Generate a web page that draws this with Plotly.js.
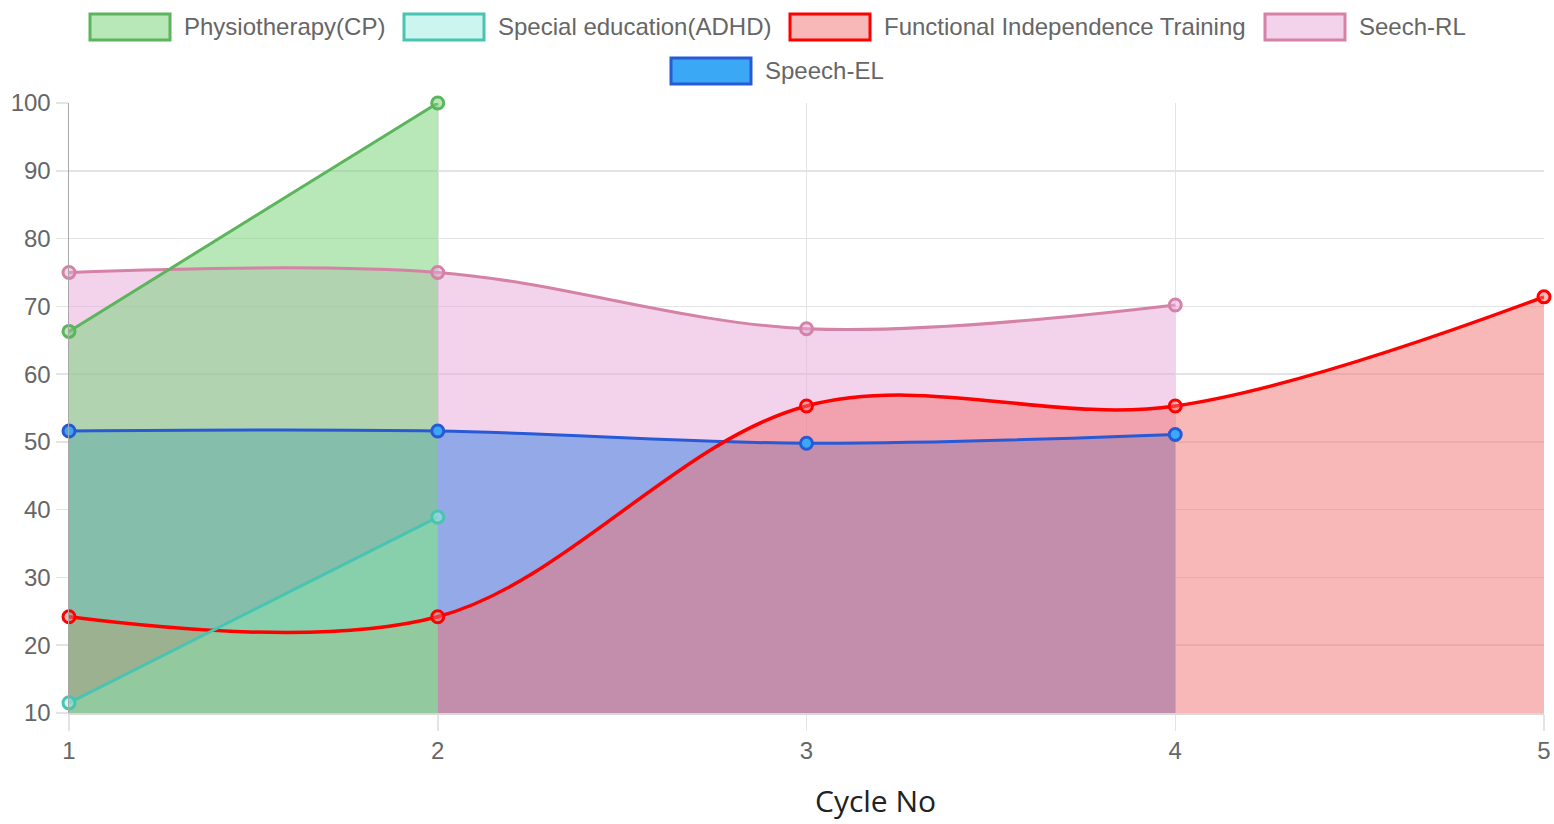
<!DOCTYPE html>
<html>
<head>
<meta charset="utf-8">
<script src="https://cdn.plot.ly/plotly-3.0.1.min.js"></script>
<style>
html,body{margin:0;padding:0;background:#fff;}
#chart{width:1554px;height:824px;}
</style>
</head>
<body>
<div id="chart"></div>
<script>
// ---- data ----
var cycles = [1, 2, 3, 4, 5];
var seriesNames = ['Physiotherapy(CP)', 'Special education(ADHD)', 'Functional Independence Training', 'Seech-RL', 'Speech-EL'];
var physio   = [66.3, 100];
var special  = [11.5, 38.9];
var fit      = [24.2, 24.2, 55.3, 55.3, 71.4];
var seechRL  = [75, 75, 66.7, 70.2];
var speechEL = [51.6, 51.6, 49.8, 51.1];
var yTicks = [10, 20, 30, 40, 50, 60, 70, 80, 90, 100];

// ---- styles ----
var styles = [
  {fill: 'rgba(118,211,118,0.52)', line: 'rgb(92,180,92)',   width: 3},
  {fill: 'rgba(157,236,226,0.52)', line: 'rgb(72,196,176)',  width: 3},
  {fill: 'rgba(241,113,113,0.50)', line: 'rgb(255,0,0)',     width: 3.5},
  {fill: 'rgba(232,170,218,0.52)', line: 'rgb(212,130,165)', width: 3},
  {fill: 'rgb(58,168,245)',        line: 'rgb(40,90,214)',   width: 3}
];
var values = [physio, special, fit, seechRL, speechEL];

// plot area in page pixels (for legend placement)
var M = {l: 69, r: 10, t: 103, b: 111};
var W = 1554, H = 824;
var PW = W - M.l - M.r, PH = H - M.t - M.b;
function px(x) { return (x - M.l) / PW; }
function py(y) { return (H - M.b - y) / PH; }

// legend box positions (left edge px, row centre px)
var legendPos = [
  {x: 90, y: 27}, {x: 404, y: 27}, {x: 790, y: 27}, {x: 1265, y: 27}, {x: 671, y: 71}
];
var boxW = 80, boxH = 26, textGap = 12;

var fillTraces = [];
var lineTraces = [];
for (var i = values.length - 1; i >= 0; i--) {
  var xs = cycles.slice(0, values[i].length);
  fillTraces.push({
    type: 'scatter', mode: 'lines', name: seriesNames[i],
    x: xs, y: values[i], fill: 'tozeroy', fillcolor: styles[i].fill,
    line: {color: styles[i].line, width: 0, shape: 'spline', smoothing: 1},
    showlegend: false, hoverinfo: 'skip'
  });
  lineTraces.push({
    type: 'scatter', mode: 'lines+markers', name: seriesNames[i],
    x: xs, y: values[i], showlegend: false, cliponaxis: false,
    line: {color: styles[i].line, width: styles[i].width, shape: 'spline', smoothing: 1},
    marker: {size: 12, color: styles[i].fill, line: {color: styles[i].line, width: 3}}
  });
}

var shapes = [];
var annotations = [];
for (var k = 0; k < seriesNames.length; k++) {
  var p = legendPos[k];
  shapes.push({
    type: 'rect', xref: 'paper', yref: 'paper',
    x0: px(p.x), x1: px(p.x + boxW), y0: py(p.y + boxH / 2), y1: py(p.y - boxH / 2),
    fillcolor: styles[k].fill, line: {color: styles[k].line, width: 3}
  });
  annotations.push({
    text: seriesNames[k], xref: 'paper', yref: 'paper',
    x: px(p.x + boxW + textGap), y: py(p.y - 1), xanchor: 'left', yanchor: 'middle',
    showarrow: false, font: {family: 'Liberation Sans, Arial, sans-serif', size: 24, color: '#666'}
  });
}
annotations.push({
  text: 'Cycle No', xref: 'paper', yref: 'paper', x: px(875), y: py(800),
  xanchor: 'center', yanchor: 'middle', showarrow: false,
  font: {family: 'Open Sans, sans-serif', size: 30, color: '#222'}
});

var layout = {
  width: W, height: H,
  margin: {l: M.l, r: M.r, t: M.t, b: M.b, autoexpand: false},
  paper_bgcolor: '#fff', plot_bgcolor: '#fff',
  font: {family: 'Liberation Sans, Arial, sans-serif', size: 24, color: '#666'},
  xaxis: {
    range: [1, 5], tickvals: cycles, ticktext: cycles.map(String),
    showgrid: true, gridcolor: '#e4e4e4', gridwidth: 1.5, zeroline: false,
    ticks: 'outside', ticklen: 16, tickcolor: '#e4e4e4', tickwidth: 1.5,
    showline: true, linecolor: '#d8d8d8', linewidth: 1.5,
    tickfont: {size: 24, color: '#666'}
  },
  yaxis: {
    range: [10, 100], tickvals: yTicks,
    showgrid: true, gridcolor: '#e4e4e4', gridwidth: 1.5, zeroline: false,
    ticks: 'outside', ticklen: 12, tickcolor: '#e4e4e4', tickwidth: 1.5,
    showline: true, linecolor: '#a8a8a8', linewidth: 1.5,
    tickfont: {size: 24, color: '#666'}
  },
  shapes: shapes,
  annotations: annotations,
  showlegend: false
};

Plotly.newPlot('chart', fillTraces.concat(lineTraces), layout, {displayModeBar: false, staticPlot: true});
</script>
</body>
</html>
